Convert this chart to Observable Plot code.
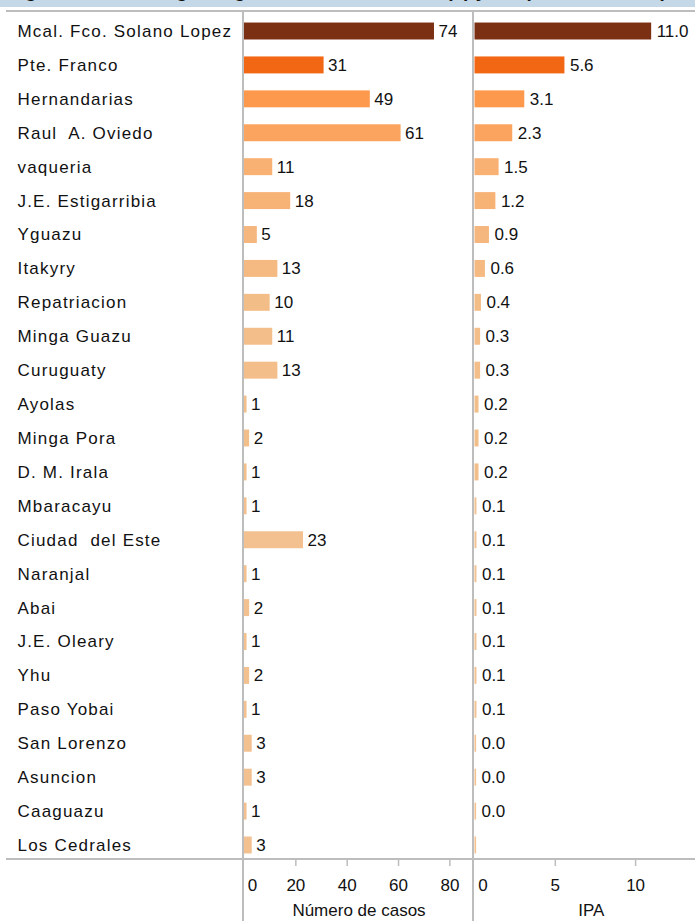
<!DOCTYPE html>
<html>
<head>
<meta charset="utf-8">
<script src="https://cdn.jsdelivr.net/npm/d3@7"></script>
<script src="https://cdn.jsdelivr.net/npm/@observablehq/plot@0.6"></script>
<style>
  html, body { margin: 0; padding: 0; background: #fff; }
  body { width: 695px; height: 921px; position: relative; overflow: hidden; font-family: "Liberation Sans", Arial, sans-serif; }
  #band { position: absolute; left: 0; top: 0; width: 695px; height: 7px; background: #c4d8e7; overflow: hidden; }
  #band span { position: absolute; left: 8px; top: -19px; font: bold 19px/20px "Liberation Sans", Arial, sans-serif; color: #111; white-space: nowrap; }
  #charts { position: absolute; left: 0; top: 8px; display: flex; }
  .hl { position: absolute; left: 6px; width: 689px; height: 2px; background: #bdbdbd; }
  .vl { position: absolute; width: 2px; top: 10px; height: 911px; background: #bdbdbd; }
  svg text { fill: #111; }
  g[aria-label="y-axis tick label"] text { letter-spacing: 1.2px; }
</style>
</head>
<body>
<div id="band"><span>Figura 4. Casos según región, número de casos (n) y IPA por distrito de procedencia</span></div>
<div id="charts"></div>
<div class="hl" style="top:10px"></div>
<div class="hl" style="top:858px"></div>
<div class="vl" style="left:242px"></div>
<div class="vl" style="left:472px"></div>
<script>
const districts = ["Mcal. Fco. Solano Lopez","Pte. Franco","Hernandarias","Raul  A. Oviedo","vaqueria","J.E. Estigarribia","Yguazu","Itakyry","Repatriacion","Minga Guazu","Curuguaty","Ayolas","Minga Pora","D. M. Irala","Mbaracayu","Ciudad  del Este","Naranjal","Abai","J.E. Oleary","Yhu","Paso Yobai","San Lorenzo","Asuncion","Caaguazu","Los Cedrales"];
const casos = [74,31,49,61,11,18,5,13,10,11,13,1,2,1,1,23,1,2,1,2,1,3,3,1,3];
// IPA bar lengths (small ones read by pixel width)
const ipa = [11.0,5.6,3.1,2.35,1.5,1.3,0.9,0.65,0.4,0.35,0.35,0.25,0.25,0.25,0.12,0.12,0.12,0.12,0.12,0.12,0.12,0.1,0.1,0.1,0.1];
const ipaLabels = ["11.0","5.6","3.1","2.3","1.5","1.2","0.9","0.6","0.4","0.3","0.3","0.2","0.2","0.2","0.1","0.1","0.1","0.1","0.1","0.1","0.1","0.0","0.0","0.0",""];
const casosTicks = [20,40,60,80];
const ipaTicks = [5,10];
const casosTitle = "Número de casos";
const ipaTitle = "IPA";

const rows = districts.map((d,i) => ({district: d, casos: casos[i], ipa: ipa[i], ipaLabel: ipaLabels[i]}));

const colorOpts = {type: "linear", domain: [0, 0.6, 1.5, 3.1, 5.6, 11], range: ["#f1c292", "#f4bb82", "#f8b073", "#fd994d", "#f26713", "#7b2f13"]};
const H = 913;
const font = {fontFamily: "Liberation Sans, Arial, sans-serif", fontSize: "17px", background: "transparent", overflow: "visible"};
const yOpts = {domain: districts, range: [3, 857], paddingInner: 0.5, paddingOuter: 0.34, round: false, axis: null};

const p1 = Plot.plot({
  width: 473, height: H,
  marginLeft: 244, marginRight: 0, marginTop: 3, marginBottom: 62,
  style: font,
  x: {domain: [0, 89.2], axis: null},
  y: yOpts,
  color: colorOpts,
  marks: [
    Plot.axisY({tickSize: 0, tickPadding: 0, textAnchor: "start", dx: -227, fontSize: 17, label: null}),
    Plot.barX(rows, {x: "casos", y: "district", fill: "ipa"}),
    Plot.text(rows, {x: "casos", y: "district", text: d => String(d.casos), dx: 4, textAnchor: "start", fontSize: 17}),
    Plot.axisX({ticks: casosTicks, tickSize: 7, tickPadding: 12, stroke: "#bdbdbd", strokeWidth: 1.5, label: null, fontSize: 17}),
    Plot.axisX({ticks: [0], tickSize: 0, tickPadding: 19, dx: 8, label: null, fontSize: 17}),
    Plot.text([casosTitle], {frameAnchor: "bottom", dy: 56, fontSize: 17})
  ]
});

const p2 = Plot.plot({
  width: 222, height: H,
  marginLeft: 1.5, marginRight: 0, marginTop: 3, marginBottom: 62,
  style: font,
  x: {domain: [0, 13.73], axis: null},
  y: yOpts,
  color: colorOpts,
  marks: [
    Plot.barX(rows, {x: "ipa", y: "district", fill: "ipa"}),
    Plot.text(rows, {x: "ipa", y: "district", text: "ipaLabel", dx: 5, textAnchor: "start", fontSize: 17}),
    Plot.axisX({ticks: ipaTicks, tickSize: 7, tickPadding: 12, stroke: "#bdbdbd", strokeWidth: 1.5, label: null, fontSize: 17}),
    Plot.axisX({ticks: [0], tickSize: 0, tickPadding: 19, dx: 8, label: null, fontSize: 17}),
    Plot.text([ipaTitle], {frameAnchor: "bottom", dy: 56, dx: 6, fontSize: 17})
  ]
});

document.getElementById("charts").append(p1, p2);
</script>
</body>
</html>
